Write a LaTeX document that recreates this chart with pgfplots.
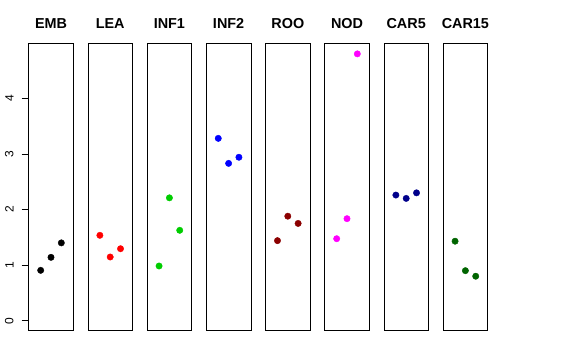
\documentclass[border=0pt]{standalone}
\usepackage{fontspec}
\setmainfont{Liberation Sans}
\usepackage{pgfplots}
\pgfplotsset{compat=1.18}
\definecolor{rblack}{HTML}{000000}
\definecolor{rred}{HTML}{FF0000}
\definecolor{greenthree}{HTML}{00CD00}
\definecolor{rblue}{HTML}{0000FF}
\definecolor{rdark}{HTML}{8B0000}
\definecolor{rmagenta}{HTML}{FF00FF}
\definecolor{bdark}{HTML}{00008B}
\definecolor{gdark}{HTML}{006400}
\pgfplotsset{panel/.style={width=44.6pt,height=287.4pt,scale only axis,
  xmin=-0.16,xmax=4.16,ymin=-0.18,ymax=4.99,
  xtick=\empty, ytick=\empty, anchor=south west,
  axis line style={line width=0.8pt, black},
  title style={font=\bfseries\fontsize{14.4}{14.4}\selectfont, at={(0.5,1)}, anchor=base, yshift=8.3pt},
  pts/.style={only marks, mark=*, mark size=3.2pt}}}
\begin{document}
\begin{tikzpicture}
\useasboundingbox (0,0) rectangle (576pt,360pt);
\begin{axis}[panel, at={(28.7pt,29.3pt)}, title={EMB},
  ytick={0,1,2,3,4}, ytick pos=left, tick align=outside, major tick length=7pt,
  tick style={line width=0.8pt, black},
  yticklabel style={rotate=90, anchor=south, inner sep=0pt, yshift=8pt, font=\fontsize{12}{12}\selectfont},
  /pgf/number format/assume math mode=true]
\addplot[pts, color=rblack] coordinates {(1,0.906)(2,1.14)(3,1.40)};
\end{axis}
\begin{axis}[panel, at={(87.9pt,29.3pt)}, title={LEA}]
\addplot[pts, color=rred] coordinates {(1,1.536)(2,1.146)(3,1.295)};
\end{axis}
\begin{axis}[panel, at={(147.1pt,29.3pt)}, title={INF1}]
\addplot[pts, color=greenthree] coordinates {(1,0.984)(2,2.21)(3,1.626)};
\end{axis}
\begin{axis}[panel, at={(206.3pt,29.3pt)}, title={INF2}]
\addplot[pts, color=rblue] coordinates {(1,3.28)(2,2.83)(3,2.94)};
\end{axis}
\begin{axis}[panel, at={(265.5pt,29.3pt)}, title={ROO}]
\addplot[pts, color=rdark] coordinates {(1,1.44)(2,1.88)(3,1.75)};
\end{axis}
\begin{axis}[panel, at={(324.7pt,29.3pt)}, title={NOD}]
\addplot[pts, color=rmagenta] coordinates {(1,1.475)(2,1.835)(3,4.80)};
\end{axis}
\begin{axis}[panel, at={(383.9pt,29.3pt)}, title={CAR5}]
\addplot[pts, color=bdark] coordinates {(1,2.26)(2,2.20)(3,2.30)};
\end{axis}
\begin{axis}[panel, at={(443.1pt,29.3pt)}, title={CAR15}]
\addplot[pts, color=gdark] coordinates {(1,1.43)(2,0.90)(3,0.80)};
\end{axis}
\end{tikzpicture}
\end{document}
